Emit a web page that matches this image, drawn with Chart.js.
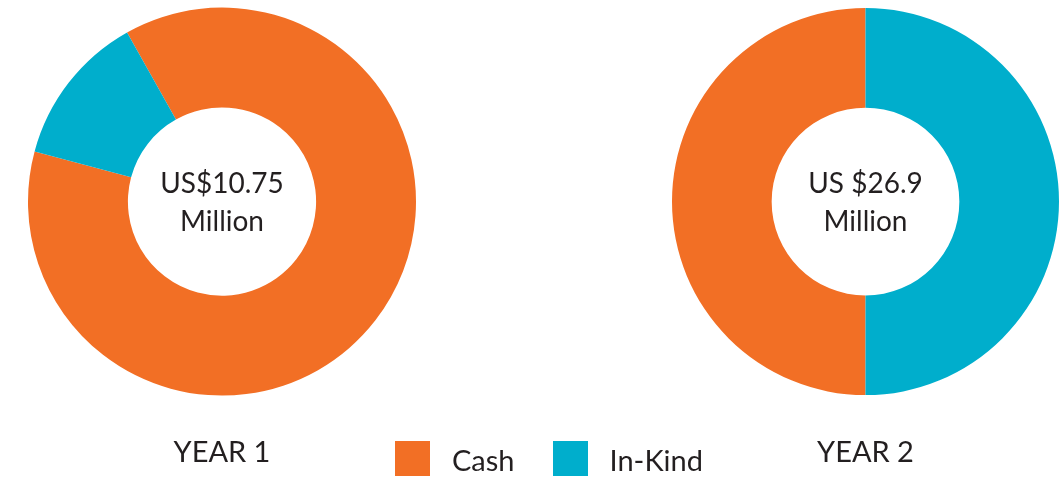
<!DOCTYPE html>
<html>
<head>
<meta charset="utf-8">
<script src="https://cdn.jsdelivr.net/npm/chart.js@4/dist/chart.umd.min.js"></script>
<style>
  html, body { margin: 0; padding: 0; background: #fff; }
  #wrap { position: relative; width: 1061px; height: 477px; overflow: hidden; font-family: Lato, sans-serif; color: #231F20; }
  #year1Chart { position: absolute; left: 0; top: 0; }
  #year2Chart { position: absolute; left: 644px; top: 0; }
  #legend { position: absolute; left: 395px; top: 441px; display: flex; align-items: center; }
  .legend-item { display: flex; align-items: center; margin-right: 38px; }
  .legend-box { width: 35px; height: 35px; margin-right: 22px; }
  .legend-text { font-size: 29px; line-height: 35px; position: relative; top: 1px; }
</style>
</head>
<body>
<div id="wrap">
  <canvas id="year1Chart" width="444" height="477"></canvas>
  <canvas id="year2Chart" width="417" height="477"></canvas>
  <div id="legend"></div>
</div>
<script>
/* Data */
const categories = ['Cash', 'In-Kind'];
const segmentColors = ['#F26F25', '#00AECC'];

// Year 1: total US$10.75 million, share in %
const year1Values = [87.3, 12.7];
const year1Center = ['US$10.75', 'Million'];
const year1Title = 'YEAR 1';

// Year 2: total US$26.9 million, split in half
const year2Values = [50, 50];
const year2Center = ['US $26.9', 'Million'];
const year2Title = 'YEAR 2';

const textColor = '#231F20';
const fontFamily = 'Lato, sans-serif';

// Draws the total in the hole of the doughnut
const centerTextPlugin = {
  id: 'centerText',
  afterDraw(chart, args, opts) {
    const arc = chart.getDatasetMeta(0).data[0];
    if (!arc) return;
    const ctx = chart.ctx;
    ctx.save();
    ctx.fillStyle = textColor;
    ctx.font = opts.size + 'px ' + fontFamily;
    ctx.textAlign = 'center';
    ctx.textBaseline = 'middle';
    const lines = opts.lines || [];
    const start = arc.y + opts.offsetY - (lines.length - 1) * opts.lineGap / 2;
    lines.forEach((line, i) => {
      ctx.fillText(line, arc.x, start + i * opts.lineGap);
    });
    ctx.restore();
  }
};

function makeDonut(canvasId, values, rotation, centerLines, titleText, padding) {
  const ctx = document.getElementById(canvasId).getContext('2d');
  return new Chart(ctx, {
    type: 'doughnut',
    data: {
      labels: categories,
      datasets: [{
        data: values,
        backgroundColor: segmentColors,
        borderWidth: 0,
        hoverOffset: 0
      }]
    },
    options: {
      responsive: false,
      animation: false,
      cutout: '48.5%',
      rotation: rotation,
      layout: { padding: padding },
      plugins: {
        legend: { display: false },
        tooltip: { enabled: false },
        title: {
          display: true,
          position: 'bottom',
          text: titleText,
          color: textColor,
          font: { family: fontFamily, size: 29, weight: 'normal', lineHeight: 1.2 },
          padding: { top: 39, bottom: 7 }
        },
        centerText: { lines: centerLines, size: 28, lineGap: 38, offsetY: 1 }
      }
    },
    plugins: [centerTextPlugin]
  });
}

const year1Chart = makeDonut('year1Chart', year1Values, -29.3, year1Center, year1Title,
  { top: 7, left: 28, right: 28, bottom: 0 });
const year2Chart = makeDonut('year2Chart', year2Values, 180, year2Center, year2Title,
  { top: 7, left: 28, right: 2, bottom: 0 });

// HTML legend built from the chart's own labels and colours
const legendEl = document.getElementById('legend');
year1Chart.data.labels.forEach((label, i) => {
  const item = document.createElement('div');
  item.className = 'legend-item';
  const box = document.createElement('div');
  box.className = 'legend-box';
  box.style.background = year1Chart.data.datasets[0].backgroundColor[i];
  const text = document.createElement('span');
  text.className = 'legend-text';
  text.textContent = label;
  item.appendChild(box);
  item.appendChild(text);
  legendEl.appendChild(item);
});
</script>
</body>
</html>
